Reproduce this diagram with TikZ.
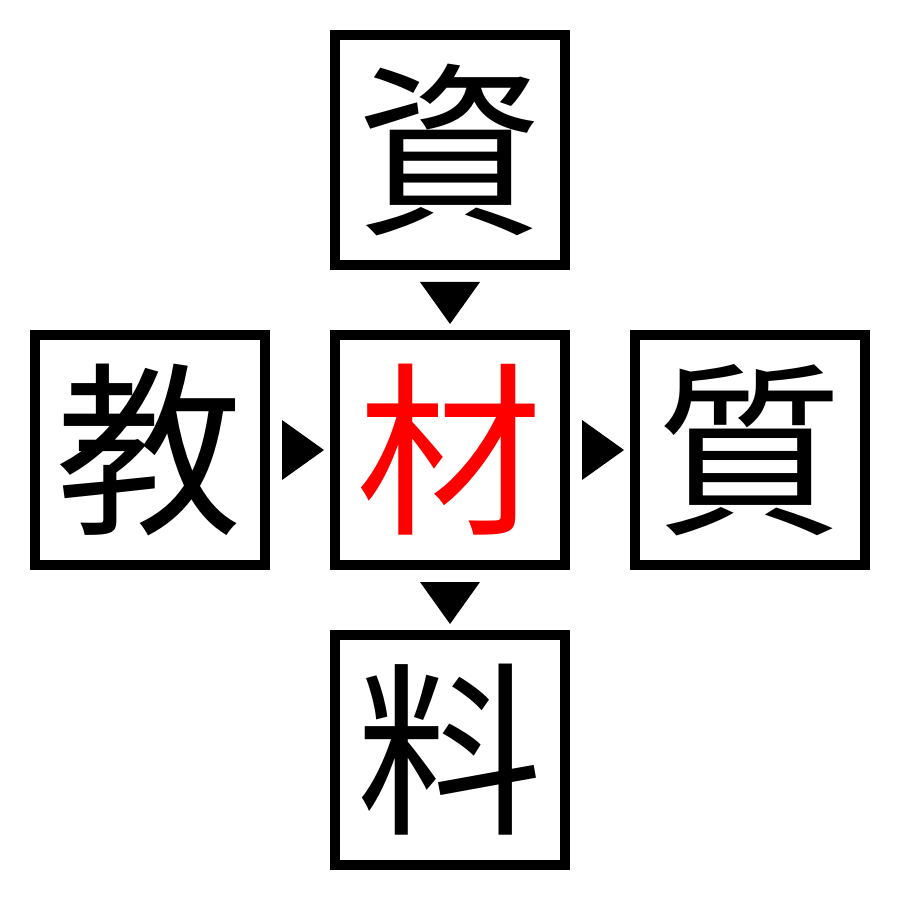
\documentclass[tikz,border=0pt]{standalone}
\usepackage{fontspec}
\newfontfamily\cjk{Noto Sans CJK JP}
\usetikzlibrary{calc}
\begin{document}
\begin{tikzpicture}[x=0.1mm,y=-0.1mm,
  kbox/.style={draw=black,line width=1mm,minimum size=23mm,inner sep=0pt,outer sep=0pt,
    font=\cjk\fontsize{53}{53}\selectfont},
  tri/.style={fill=black}]
\useasboundingbox (0,0) rectangle (900,900);
\node[kbox] (top) at (450,150) {資};
\node[kbox] (left) at (150,450) {教};
\node[kbox,text=red] (mid) at (450,450) {材};
\node[kbox] (right) at (750,450) {質};
\node[kbox] (bot) at (450,750) {料};
% down arrows
\fill[tri] ($(top.south)+(-30,17)$) -- ($(top.south)+(30,17)$) -- ($(top.south)+(0,59)$) -- cycle;
\fill[tri] ($(mid.south)+(-30,17)$) -- ($(mid.south)+(30,17)$) -- ($(mid.south)+(0,59)$) -- cycle;
% right arrows
\fill[tri] ($(left.east)+(17,-30)$) -- ($(left.east)+(17,30)$) -- ($(left.east)+(59,0)$) -- cycle;
\fill[tri] ($(mid.east)+(17,-30)$) -- ($(mid.east)+(17,30)$) -- ($(mid.east)+(59,0)$) -- cycle;
\end{tikzpicture}
\end{document}
